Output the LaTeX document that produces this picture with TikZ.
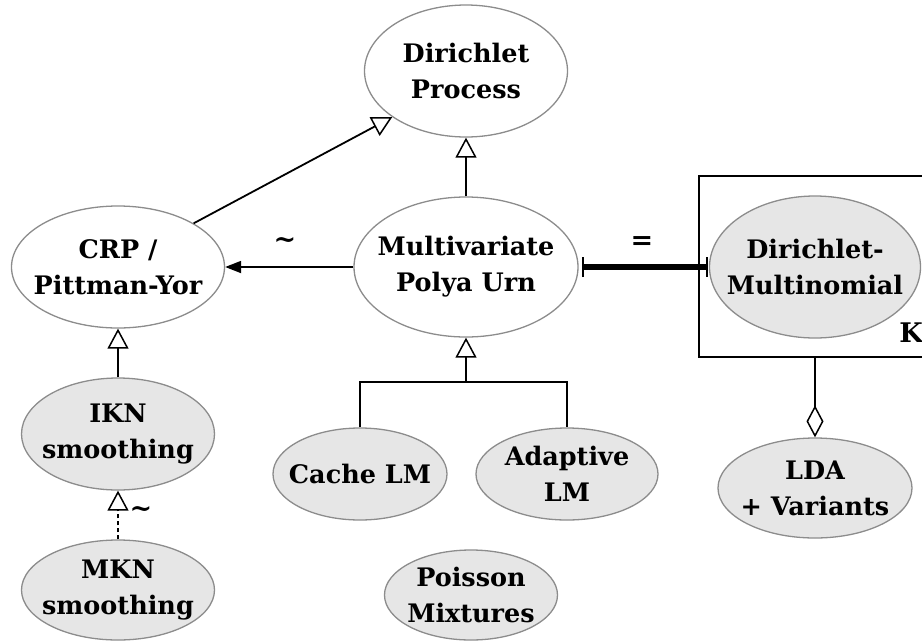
\documentclass[tikz,border=0pt]{standalone}
\usepackage{fontspec}
\setmainfont{DejaVu Serif}
\usetikzlibrary{arrows.meta,shapes.geometric}
\definecolor{nodegray}{HTML}{E6E6E6}
\definecolor{rimgray}{HTML}{8C8C8C}
\begin{document}
\begin{tikzpicture}[x=1pt,y=-1pt,
  txt/.style={font=\fontsize{25.5}{36}\selectfont\bfseries, align=center, inner sep=0pt},
  ell/.style={ellipse, draw=rimgray, line width=1.3pt, inner sep=0pt, fill=white},
  gell/.style={ell, fill=nodegray},
  edge/.style={line width=1.8pt, black},
  inherit/.style={edge, -{Triangle[open, length=20pt, width=21pt, line width=1.5pt]}},
  assoc/.style={edge, -{Triangle[length=16pt, width=12pt]}},
  lbl/.style={font=\fontsize{27}{30}\selectfont\bfseries}
]
\useasboundingbox (0,0) rectangle (922,641);
% plate
\draw[line width=1.6pt] (930,176) -- (699,176) -- (699,357) -- (930,357);
\node[gell, minimum width=211pt, minimum height=142pt] (dm) at (815,267) {};
\node[txt] (dm-t) at (dm) {Dirichlet-\\Multinomial};
\node[lbl] (k) at (911,333) {K};

\node[ell, minimum width=203pt, minimum height=132pt] (dp) at (466,71) {};
\node[txt] (dp-t) at (dp) {Dirichlet\\Process};
\node[ell, minimum width=224pt, minimum height=140pt] (pu) at (466,267) {};
\node[txt] (pu-t) at (pu) {Multivariate\\Polya Urn};
\node[ell, minimum width=213pt, minimum height=122pt] (crp) at (118,267) {};
\node[txt] (crp-t) at (crp) {CRP /\\Pittman-Yor};
\node[gell, minimum width=193pt, minimum height=112pt] (ikn) at (118,434) {};
\node[txt] (ikn-t) at (ikn) {IKN\\smoothing};
\node[gell, minimum width=193pt, minimum height=100pt] (mkn) at (118,590) {};
\node[txt] (mkn-t) at (mkn) {MKN\\smoothing};
\node[gell, minimum width=174pt, minimum height=92pt] (cache) at (360,474) {};
\node[txt] (cache-t) at (cache) {Cache LM};
\node[gell, minimum width=182pt, minimum height=92pt] (adapt) at (567,474) {};
\node[txt] (adapt-t) at (adapt) {Adaptive\\LM};
\node[gell, minimum width=173pt, minimum height=90pt] (poisson) at (471,595) {};
\node[txt] (poisson-t) at (poisson) {Poisson\\Mixtures};
\node[gell, minimum width=194pt, minimum height=100pt] (lda) at (815,488) {};
\node[txt] (lda-t) at (lda) {LDA\\+ Variants};

% edges
\draw[inherit] (pu.north) -- (dp.south);
\draw[inherit] (crp.30) -- (dp.-148);
\draw[assoc] (pu.west) -- (crp.east);
\node[lbl] (t1) at (285,243) {\textasciitilde};
\draw[inherit] (ikn.north) -- (crp.south);
\draw[inherit, dash pattern=on 4pt off 3pt] (mkn.north) -- (ikn.south);
\node[lbl] (t2) at (141,512) {\textasciitilde};
\coordinate (j) at (466,382);
\draw[edge] (cache.north) |- (adapt.north |- j) -- (adapt.north);
\draw[inherit] (j) -- (pu.south);
% equality
\draw[line width=6pt, {Bar[width=20pt,line width=2pt]}-{Bar[width=20pt,line width=2pt]}, shorten <=3pt, shorten >=1pt] (pu.east) -- (dm.west);
\node[lbl] (eq) at (642,243) {=};
% aggregation
\coordinate (pb) at (815,357);
\draw[edge, -{Diamond[open, length=32pt, width=17pt, line width=1.5pt]}] (pb) -- (lda.north);
\end{tikzpicture}
\end{document}
